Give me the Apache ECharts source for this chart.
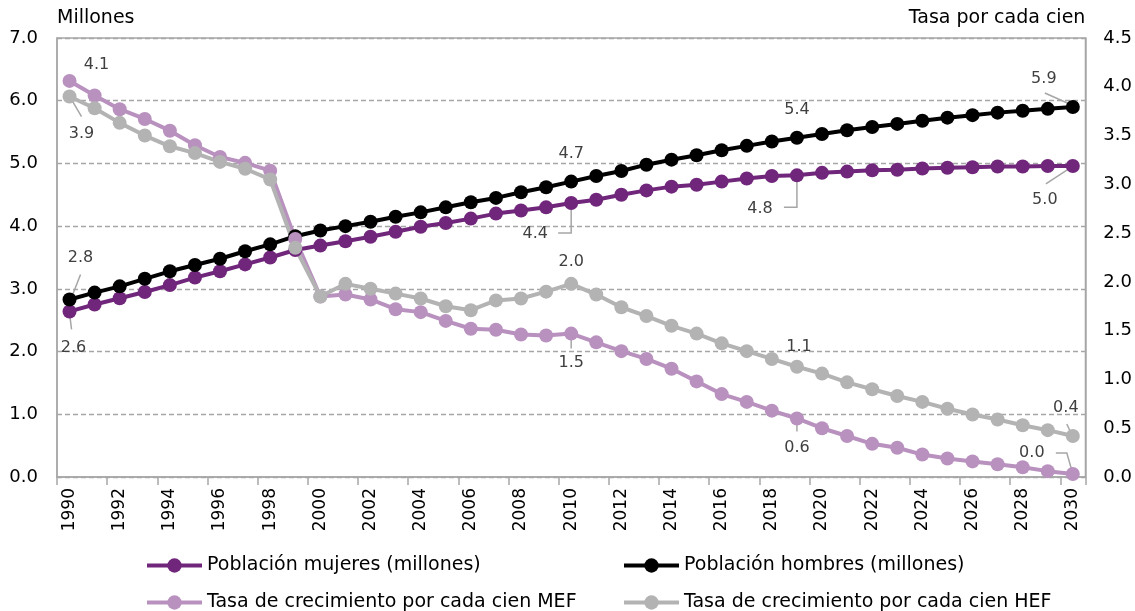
<!DOCTYPE html>
<html>
<head>
<meta charset="utf-8">
<script src="https://cdn.jsdelivr.net/npm/echarts@6/dist/echarts.min.js"></script>
<style>
  html, body { margin: 0; padding: 0; background: #fff; }
  #chart { width: 1135px; height: 611px; }
</style>
</head>
<body>
<div id="chart"></div>
<script>
// categorias (años)
var years = ['1990','1991','1992','1993','1994','1995','1996','1997','1998','1999',
  '2000','2001','2002','2003','2004','2005','2006','2007','2008','2009',
  '2010','2011','2012','2013','2014','2015','2016','2017','2018','2019',
  '2020','2021','2022','2023','2024','2025','2026','2027','2028','2029','2030'];

// poblacion en millones (eje izquierdo)
var mujeres = [2.64,2.75,2.85,2.95,3.06,3.18,3.28,3.39,3.50,3.62,
  3.69,3.76,3.83,3.91,3.99,4.05,4.12,4.20,4.25,4.30,
  4.37,4.42,4.50,4.57,4.63,4.66,4.71,4.76,4.80,4.81,
  4.85,4.87,4.89,4.90,4.92,4.93,4.94,4.95,4.95,4.96,4.96];
var hombres = [2.83,2.94,3.04,3.16,3.28,3.38,3.48,3.60,3.71,3.84,
  3.93,4.00,4.07,4.15,4.22,4.30,4.38,4.45,4.54,4.62,
  4.71,4.80,4.88,4.98,5.06,5.13,5.21,5.28,5.35,5.41,
  5.47,5.53,5.58,5.63,5.68,5.73,5.77,5.81,5.84,5.87,5.90];

// tasa de crecimiento por cada cien (eje derecho)
var tasaMEF = [4.06,3.91,3.77,3.67,3.55,3.40,3.28,3.22,3.14,2.44,
  1.85,1.87,1.82,1.72,1.69,1.60,1.52,1.51,1.46,1.45,
  1.47,1.38,1.29,1.21,1.11,0.98,0.85,0.77,0.68,0.60,
  0.50,0.42,0.34,0.30,0.23,0.19,0.16,0.13,0.10,0.06,0.03];
var tasaHEF = [3.90,3.78,3.63,3.50,3.39,3.32,3.23,3.16,3.05,2.35,
  1.85,1.98,1.93,1.88,1.83,1.75,1.71,1.81,1.83,1.90,
  1.98,1.87,1.74,1.65,1.55,1.47,1.37,1.29,1.21,1.13,
  1.06,0.97,0.90,0.83,0.77,0.70,0.64,0.59,0.53,0.48,0.42];

var nombres = ['Población mujeres (millones)', 'Población hombres (millones)',
  'Tasa de crecimiento por cada cien MEF', 'Tasa de crecimiento por cada cien HEF'];
var colores = ['#70267a', '#000000', '#b991bf', '#b3b3b3'];

// indices con etiqueta
var conEtiqueta = [0, 20, 29, 40];

var FONT = 'DejaVu Sans';

// posicion de cada etiqueta respecto al punto [dx, dy] y su linea guia (relativa)
var etiquetas = [
  { // mujeres
    0:  { d: [4, 36],   line: [[0, 2], [2, 18]] },
    20: { d: [-36, 31], line: [[0, 0], [0, 30], [-13, 30]] },
    29: { d: [-37, 33], line: [[0, 0], [0, 32], [-13, 32]] },
    40: { d: [-28, 34], line: [[-1, 1], [-27, 18]] }
  },
  { // hombres
    0:  { d: [11, -42], line: [[2, -2], [11, -25]] },
    20: { d: [0, -28] },
    29: { d: [0, -28] },
    40: { d: [-29, -28], line: [[-1, -2], [-28, -14]] }
  },
  { // MEF
    0:  { d: [27, -16] },
    20: { d: [0, 29],   line: [[0, 4], [0, 15]] },
    29: { d: [0, 29],   line: [[0, 1], [0, 13]] },
    40: { d: [-41, -21], line: [[0, 0], [-6, -21], [-17, -21]] }
  },
  { // HEF
    0:  { d: [12, 37],  line: [[2, 3], [12, 20]] },
    20: { d: [0, -22] },
    29: { d: [2, -20] },
    40: { d: [-7, -28], line: [[-1, -1], [-6, -12]] }
  }
];

function armarDatos(valores) {
  return valores.map(function (v, i) {
    if (conEtiqueta.indexOf(i) < 0) return v;
    return { value: v, label: { show: true } };
  });
}

function layoutDe(s) {
  return function (params) {
    var cfg = etiquetas[s][params.dataIndex];
    if (!cfg) return {};
    var cx = params.rect.x + params.rect.width / 2;
    var cy = params.rect.y + params.rect.height / 2;
    return {
      x: cx + cfg.d[0],
      y: cy + cfg.d[1],
      align: 'center',
      verticalAlign: 'middle'
    };
  };
}

function serie(s, valores, eje) {
  return {
    name: nombres[s],
    type: 'line',
    yAxisIndex: eje,
    data: armarDatos(valores),
    symbol: 'circle',
    symbolSize: 14,
    color: colores[s],
    lineStyle: { width: 4, color: colores[s] },
    itemStyle: { color: colores[s] },
    label: {
      show: false,
      fontFamily: FONT,
      fontSize: 16,
      color: '#404040',
      formatter: function (p) { return p.value.toFixed(1); }
    },
    labelLayout: layoutDe(s),
    emphasis: { disabled: true },
    z: 2
  };
}

// lineas guia de las etiquetas, ancladas al punto por la escala del eje
function guias(s, valores, eje) {
  var idx = conEtiqueta.filter(function (i) { return etiquetas[s][i].line; });
  return {
    type: 'custom',
    yAxisIndex: eje,
    silent: true,
    z: 1,
    data: idx.map(function (i) { return [i, valores[i]]; }),
    renderItem: function (params, api) {
      var i = api.value(0);
      var p = api.coord([i, api.value(1)]);
      var cfg = etiquetas[s][i];
      return {
        type: 'polyline',
        shape: { points: cfg.line.map(function (q) { return [p[0] + q[0], p[1] + q[1]]; }) },
        style: { stroke: '#a6a6a6', lineWidth: 1.5, fill: null }
      };
    }
  };
}

function leyenda(s, left, top) {
  return {
    data: [nombres[s]],
    left: left,
    top: top,
    padding: 0,
    itemWidth: 55,
    itemHeight: 18,
    itemGap: 5,
    lineStyle: { width: 4 },
    textStyle: { fontFamily: FONT, fontSize: 19, color: '#000' }
  };
}

var chart = echarts.init(document.getElementById('chart'));
var option = {
  backgroundColor: '#fff',
  animation: false,
  textStyle: { fontFamily: FONT },
  grid: {
    left: 57, right: 48, top: 38, bottom: 134,
    show: true, borderColor: '#a6a6a6', borderWidth: 1.3
  },
  legend: [
    leyenda(0, 145, 556),
    leyenda(1, 622, 556),
    leyenda(2, 145, 593),
    leyenda(3, 622, 593)
  ],
  xAxis: {
    type: 'category',
    data: years,
    boundaryGap: true,
    axisLine: { lineStyle: { color: '#a6a6a6', width: 1.5 } },
    axisTick: { show: true, interval: 1, length: 8, lineStyle: { color: '#a6a6a6', width: 1.5 } },
    axisLabel: { interval: 1, rotate: 90, margin: 11, fontFamily: FONT, fontSize: 17, color: '#000' }
  },
  yAxis: [
    {
      type: 'value',
      min: 0, max: 7, interval: 1,
      name: 'Millones',
      nameLocation: 'end',
      nameGap: 20,
      nameTextStyle: { align: 'left', verticalAlign: 'middle', fontFamily: FONT, fontSize: 19, color: '#000' },
      axisLine: { show: true, lineStyle: { color: '#a6a6a6', width: 1.5 } },
      axisTick: { show: false },
      axisLabel: { margin: 19, fontFamily: FONT, fontSize: 18, color: '#000', formatter: function (v) { return v.toFixed(1); } },
      splitLine: { show: true, lineStyle: { color: '#a6a6a6', width: 1.3, type: [5, 3] } }
    },
    {
      type: 'value',
      position: 'right',
      min: 0, max: 4.5, interval: 0.5,
      name: 'Tasa por cada cien',
      nameLocation: 'end',
      nameGap: 20,
      nameTextStyle: { align: 'right', verticalAlign: 'middle', fontFamily: FONT, fontSize: 19, color: '#000' },
      axisLine: { show: true, lineStyle: { color: '#a6a6a6', width: 1.5 } },
      axisTick: { show: false },
      axisLabel: { margin: 18, fontFamily: FONT, fontSize: 18, color: '#000', formatter: function (v) { return v.toFixed(1); } },
      splitLine: { show: false }
    }
  ],
  series: [
    serie(0, mujeres, 0),
    serie(1, hombres, 0),
    serie(2, tasaMEF, 1),
    serie(3, tasaHEF, 1),
    guias(0, mujeres, 0),
    guias(1, hombres, 0),
    guias(2, tasaMEF, 1),
    guias(3, tasaHEF, 1)
  ]
};
chart.setOption(option);
</script>
</body>
</html>
